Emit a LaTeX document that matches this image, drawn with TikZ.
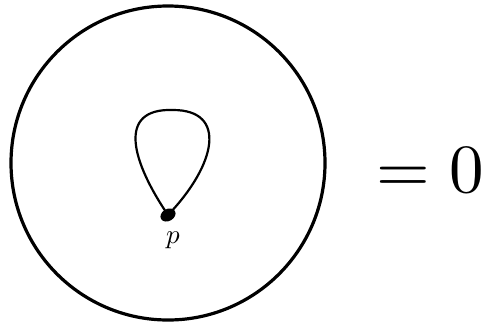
\documentclass[tikz,border=0pt]{standalone}
\usepackage{amsmath,amssymb}
\usepackage{tikz}
\usetikzlibrary{positioning,shapes.geometric}

\begin{document}
\begin{tikzpicture}[
    x=0.5pt, y=-0.5pt,
    disk/.style={line width=1.6pt},
    loopline/.style={line width=1.1pt},
    basept/.style={ellipse, fill, inner sep=0pt, minimum width=8pt, minimum height=6pt, rotate=30},
    lbl/.style={font=\normalsize, inner sep=0pt},
    eqn/.style={font=\normalsize, inner sep=0pt}
  ]
    \useasboundingbox (0,0) rectangle (486,322);
    \coordinate (centre) at (168,163);
    \draw[disk] (centre) circle[radius=78.5pt];
    \node[basept] (p) at (168,215) {};
    \coordinate (top) at (173,110);
    \draw[loopline] (p.center) .. controls (132,162) and (116,108) .. (top)
                        .. controls (228,110) and (216,165) .. (p.center);
    \node[lbl] (plabel) at (173,240) {\scalebox{1.35}{$p$}};
    \node[eqn] (zero) at (430,170) {\scalebox{3.45}{$=0$}};
  \end{tikzpicture}
\end{document}
